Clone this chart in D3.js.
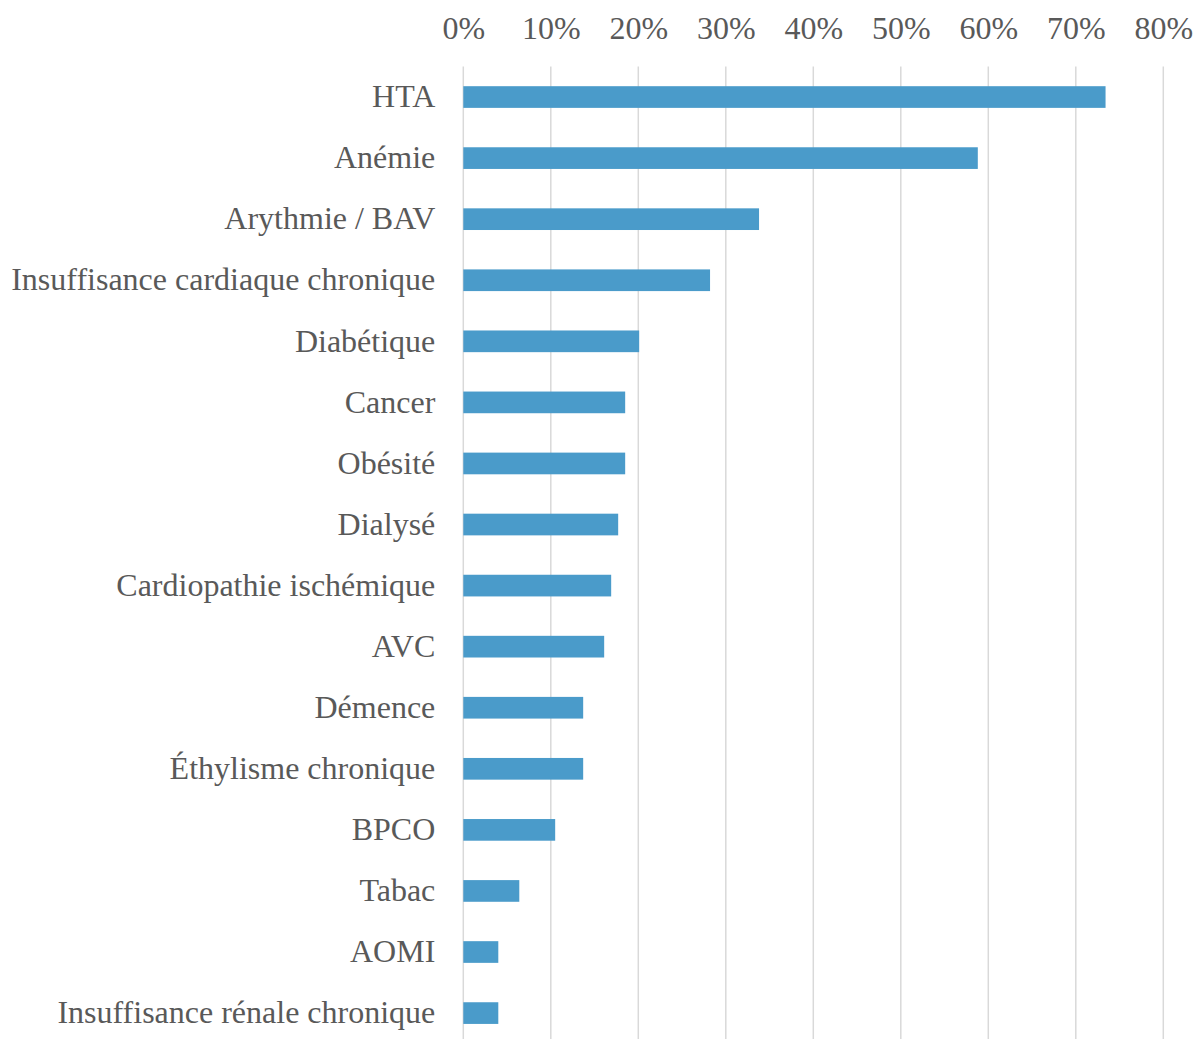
<!DOCTYPE html>
<html><head><meta charset="utf-8">
<script src="https://cdn.jsdelivr.net/npm/d3@7"></script>
<style>body{margin:0;background:#fff;} svg{display:block;}</style>
</head><body>
<svg id="chart" width="1203" height="1039"></svg>
<script>
const categories = ["HTA","Anémie","Arythmie / BAV","Insuffisance cardiaque chronique","Diabétique","Cancer","Obésité","Dialysé","Cardiopathie ischémique","AVC","Démence","Éthylisme chronique","BPCO","Tabac","AOMI","Insuffisance rénale chronique"];
const values = [73.4,58.8,33.8,28.2,20.1,18.5,18.5,17.7,16.9,16.1,13.7,13.7,10.5,6.4,4.0,4.0];
const tickValues = [0,10,20,30,40,50,60,70,80];

const svg = d3.select("#chart");
const x = d3.scaleLinear().domain([0,80]).range([463.3,1163.3]);
const y = d3.scaleBand().domain(categories).range([66.5, 66.5 + 16*61.07]).paddingInner(0.645).paddingOuter(0.3225);
const font = "'Liberation Serif','Times New Roman',serif";

svg.append("g").selectAll("line").data(tickValues).join("line")
  .attr("x1", d=>x(d)).attr("x2", d=>x(d))
  .attr("y1", 66.5).attr("y2", 1039)
  .attr("stroke", "#d9d9d9").attr("stroke-width", 1.5);

const xAxis = d3.axisTop(x).tickValues(tickValues).tickFormat(d=>d+"%").tickSize(0).tickPadding(0);
const gx = svg.append("g").attr("transform","translate(0,38.5)").call(xAxis);
gx.select(".domain").remove();
gx.selectAll("text").attr("font-family",font).attr("font-size",32).attr("fill","#595959").attr("dy",0);

svg.append("g").selectAll("rect").data(values).join("rect")
  .attr("x", x(0)).attr("y", (d,i)=>y(categories[i]))
  .attr("width", d=>x(d)-x(0)).attr("height", y.bandwidth())
  .attr("fill", "#4a9bca");

const yAxis = d3.axisLeft(y).tickSize(0).tickPadding(28);
const gy = svg.append("g").attr("transform",`translate(${x(0)},0)`).call(yAxis);
gy.select(".domain").remove();
gy.selectAll("text").attr("font-family",font).attr("font-size",32).attr("fill","#595959");
</script>
</body></html>
